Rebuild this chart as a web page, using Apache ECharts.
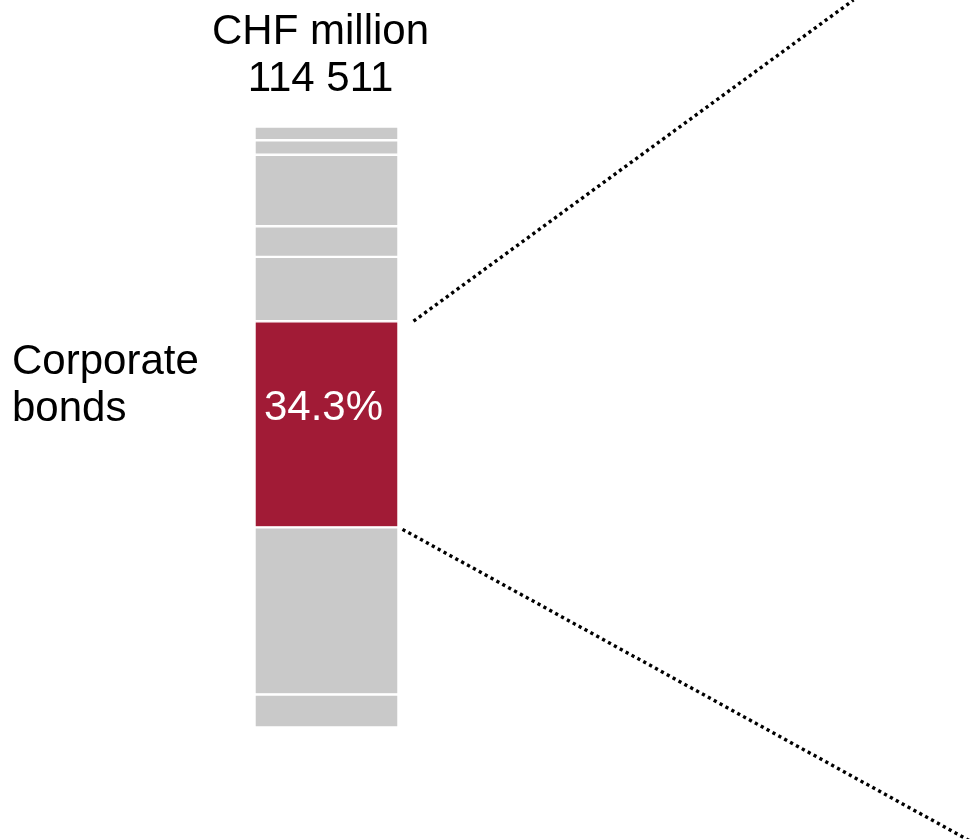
<!DOCTYPE html>
<html>
<head>
<meta charset="utf-8">
<script src="https://cdn.jsdelivr.net/npm/echarts@6/dist/echarts.min.js"></script>
<style>
  html, body { margin: 0; padding: 0; background: #ffffff; }
  #chart { width: 971px; height: 839px; }
</style>
</head>
<body>
<div id="chart"></div>
<script>
// Share of the total portfolio (%), stacked from the bottom of the column upwards
const segmentShares = [5.5, 27.8, 34.3, 10.7, 5.1, 11.9, 2.4, 2.3];
const segmentNames = ['Other 1', 'Other 2', 'Corporate bonds', 'Other 3', 'Other 4', 'Other 5', 'Other 6', 'Other 7'];
const highlightIndex = 2;
const highlightLabel = 'Corporate\nbonds';
const unitLabel = 'CHF million';
const totalLabel = '114 511';

const FONT = '"Liberation Sans", Arial, Helvetica, sans-serif';
const GRAY = '#c9c9c9';
const RED = '#a11b36';

// Column geometry
const gridLeft = 254.5, gridTop = 126.5, gridWidth = 144, gridHeight = 601;

const chart = echarts.init(document.getElementById('chart'), null, { renderer: 'canvas' });

const series = segmentShares.map((v, i) => ({
  type: 'bar',
  name: segmentNames[i],
  stack: 'total',
  data: [v],
  barWidth: '100%',
  silent: true,
  itemStyle: {
    color: i === highlightIndex ? RED : GRAY,
    borderColor: '#ffffff',
    borderWidth: 1.2
  },
  label: i === highlightIndex ? {
    show: true,
    position: 'inside',
    offset: [-3, -16],
    formatter: p => p.value.toFixed(1) + '%',
    color: '#ffffff',
    fontSize: 42,
    fontFamily: FONT
  } : { show: false }
}));

chart.setOption({
  animation: false,
  backgroundColor: '#ffffff',
  grid: { left: gridLeft, top: gridTop, width: gridWidth, height: gridHeight },
  xAxis: { type: 'category', data: [''], show: false },
  yAxis: { type: 'value', min: 0, max: 100, show: false },
  series: series
});

// Boundaries of the highlighted segment, read through the value axis
const sumBelow = segmentShares.slice(0, highlightIndex).reduce((a, b) => a + b, 0);
const sumTop = sumBelow + segmentShares[highlightIndex];
const yBottom = chart.convertToPixel({ yAxisIndex: 0 }, sumBelow);
const yTop = chart.convertToPixel({ yAxisIndex: 0 }, sumTop);
const barRight = gridLeft + gridWidth;
const W = 971;

// Dotted leader lines fanning out from the highlighted segment
const upStart = [barRight + 15, yTop];
const upSlope = 0.73;
const upEnd = [upStart[0] + upStart[1] / upSlope, 0];
const downStart = [barRight + 4, yBottom + 2];
const downSlope = 0.549;
const downEnd = [W, downStart[1] + (W - downStart[0]) * downSlope];

const dotted = { stroke: '#000000', lineWidth: 3.4, lineDash: [3.2, 3.5], lineCap: 'butt' };

chart.setOption({
  graphic: [
    {
      type: 'text', silent: true,
      style: {
        text: unitLabel + '\n' + totalLabel,
        x: 320.5, y: 8.3,
        align: 'center', verticalAlign: 'top',
        font: '42px ' + FONT, lineHeight: 47.6, fill: '#000000'
      }
    },
    {
      type: 'text', silent: true,
      style: {
        text: highlightLabel,
        x: 12, y: 338.3,
        align: 'left', verticalAlign: 'top',
        font: '42px ' + FONT, lineHeight: 47.6, fill: '#000000'
      }
    },
    {
      type: 'line', silent: true,
      shape: { x1: upStart[0], y1: upStart[1], x2: upEnd[0], y2: upEnd[1] },
      style: dotted
    },
    {
      type: 'line', silent: true,
      shape: { x1: downStart[0], y1: downStart[1], x2: downEnd[0], y2: downEnd[1] },
      style: dotted
    }
  ]
});
</script>
</body>
</html>
